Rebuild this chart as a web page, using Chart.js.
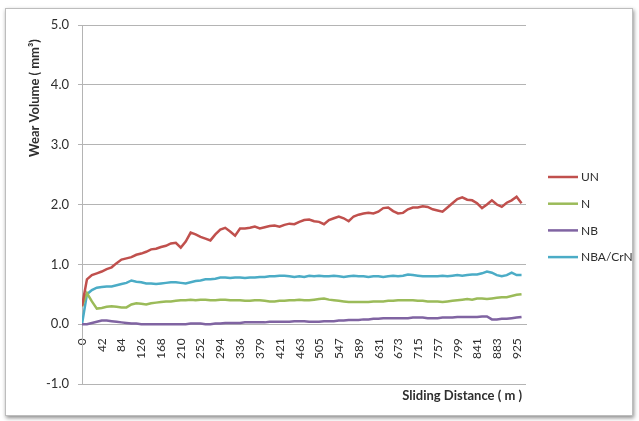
<!DOCTYPE html>
<html>
<head>
<meta charset="utf-8">
<script src="https://cdn.jsdelivr.net/npm/chart.js@4.4.1/dist/chart.umd.min.js"></script>
<style>
  html, body { margin: 0; padding: 0; background: #ffffff; }
  #wrap { position: relative; width: 639px; height: 421px; }
</style>
</head>
<body>
<div id="wrap"><canvas id="chart"></canvas></div>
<script>
// Sliding distance (m) of each sample
const distance = [0, 10.5, 21, 31.5, 42, 52.5, 63, 73.5, 84, 94.5,
  105, 115.5, 126, 136.5, 147, 157.5, 168, 178.5, 189, 199.5,
  210, 220.5, 231, 241.5, 252, 262.5, 273, 283.5, 294, 304.5,
  315, 325.5, 336, 346.5, 357, 367.5, 378, 388.5, 399, 409.5,
  420, 430.5, 441, 451.5, 462, 472.5, 483, 493.5, 504, 514.5,
  525, 535.5, 546, 556.5, 567, 577.5, 588, 598.5, 609, 619.5,
  630, 640.5, 651, 661.5, 672, 682.5, 693, 703.5, 714, 724.5,
  735, 745.5, 756, 766.5, 777, 787.5, 798, 808.5, 819, 829.5,
  840, 850.5, 861, 871.5, 882, 892.5, 903, 913.5, 924, 934.5];

// Wear volume (mm³) per coating
const volUN = [0.30, 0.75, 0.82, 0.85, 0.88, 0.92, 0.95, 1.02, 1.08, 1.10,
  1.12, 1.16, 1.18, 1.21, 1.25, 1.26, 1.29, 1.31, 1.35, 1.36,
  1.28, 1.38, 1.53, 1.50, 1.46, 1.43, 1.40, 1.50, 1.58, 1.61,
  1.55, 1.48, 1.60, 1.60, 1.61, 1.63, 1.60, 1.62, 1.64, 1.65,
  1.63, 1.66, 1.68, 1.67, 1.71, 1.74, 1.75, 1.72, 1.71, 1.67,
  1.74, 1.77, 1.80, 1.77, 1.72, 1.80, 1.83, 1.85, 1.86, 1.85,
  1.88, 1.94, 1.95, 1.89, 1.85, 1.86, 1.92, 1.95, 1.95, 1.97,
  1.96, 1.92, 1.90, 1.88, 1.95, 2.02, 2.09, 2.12, 2.08, 2.07,
  2.02, 1.94, 2.00, 2.07, 2.00, 1.96, 2.03, 2.07, 2.13, 2.02];

const volN = [0.30, 0.52, 0.38, 0.26, 0.27, 0.29, 0.30, 0.29, 0.28, 0.28,
  0.33, 0.35, 0.34, 0.33, 0.35, 0.36, 0.37, 0.38, 0.38, 0.39,
  0.40, 0.40, 0.41, 0.40, 0.41, 0.41, 0.40, 0.40, 0.41, 0.41,
  0.40, 0.40, 0.40, 0.39, 0.39, 0.40, 0.40, 0.39, 0.38, 0.38,
  0.39, 0.39, 0.40, 0.40, 0.41, 0.40, 0.40, 0.41, 0.42, 0.43,
  0.41, 0.40, 0.39, 0.38, 0.37, 0.37, 0.37, 0.37, 0.37, 0.38,
  0.38, 0.38, 0.39, 0.39, 0.40, 0.40, 0.40, 0.40, 0.39, 0.39,
  0.38, 0.38, 0.38, 0.37, 0.38, 0.39, 0.40, 0.41, 0.42, 0.41,
  0.43, 0.43, 0.42, 0.43, 0.44, 0.45, 0.45, 0.47, 0.49, 0.50];

const volNB = [0.00, 0.00, 0.02, 0.04, 0.06, 0.06, 0.05, 0.04, 0.03, 0.02,
  0.01, 0.01, 0.00, 0.00, 0.00, 0.00, 0.00, 0.00, 0.00, 0.00,
  0.00, 0.00, 0.01, 0.01, 0.01, 0.00, 0.00, 0.01, 0.01, 0.02,
  0.02, 0.02, 0.02, 0.03, 0.03, 0.03, 0.03, 0.03, 0.04, 0.04,
  0.04, 0.04, 0.04, 0.05, 0.05, 0.05, 0.04, 0.04, 0.04, 0.05,
  0.05, 0.05, 0.06, 0.06, 0.07, 0.07, 0.07, 0.08, 0.08, 0.09,
  0.09, 0.10, 0.10, 0.10, 0.10, 0.10, 0.10, 0.11, 0.11, 0.11,
  0.10, 0.10, 0.10, 0.11, 0.11, 0.11, 0.12, 0.12, 0.12, 0.12,
  0.12, 0.13, 0.13, 0.08, 0.08, 0.09, 0.09, 0.10, 0.11, 0.12];

const volNBACrN = [0.00, 0.50, 0.57, 0.61, 0.62, 0.63, 0.63, 0.65, 0.67, 0.69,
  0.73, 0.71, 0.70, 0.68, 0.68, 0.67, 0.68, 0.69, 0.70, 0.70,
  0.69, 0.68, 0.70, 0.72, 0.73, 0.75, 0.75, 0.76, 0.78, 0.78,
  0.77, 0.78, 0.78, 0.77, 0.78, 0.78, 0.79, 0.79, 0.80, 0.80,
  0.81, 0.81, 0.80, 0.79, 0.80, 0.79, 0.81, 0.80, 0.81, 0.80,
  0.80, 0.81, 0.80, 0.79, 0.80, 0.81, 0.80, 0.80, 0.79, 0.80,
  0.80, 0.79, 0.80, 0.81, 0.80, 0.81, 0.83, 0.82, 0.81, 0.80,
  0.80, 0.80, 0.80, 0.81, 0.80, 0.81, 0.82, 0.81, 0.82, 0.83,
  0.83, 0.85, 0.88, 0.86, 0.82, 0.80, 0.82, 0.86, 0.82, 0.82];

const seriesNames = ['UN', 'N', 'NB', 'NBA/CrN'];
const seriesColors = ['#C0504D', '#9BBB59', '#8064A2', '#4BACC6'];
const distanceTicks = [0, 42, 84, 126, 168, 210, 252, 294, 336, 379, 421, 463,
  505, 547, 589, 631, 673, 715, 757, 799, 841, 883, 925];
const yTitle = 'Wear Volume ( mm\u00B3)';
const xTitle = 'Sliding Distance ( m )';

const FONT = 'Lato, "Liberation Sans", Arial, sans-serif';
const TEXT = '#2e2e2e';
const GRID = '#b4b4b4';

const toPoints = vals => vals.map((v, i) => ({ x: distance[i], y: v }));
const allSeries = [volUN, volN, volNB, volNBACrN];

// Outer frame, legend and axis titles
const decorations = {
  id: 'decorations',
  beforeDraw(chart) {
    const ctx = chart.ctx;
    ctx.save();
    ctx.fillStyle = '#ffffff';
    ctx.fillRect(0, 0, chart.width, chart.height);
    ctx.shadowColor = 'rgba(0,0,0,0.45)';
    ctx.shadowBlur = 4;
    ctx.shadowOffsetX = 1;
    ctx.shadowOffsetY = 2;
    ctx.fillStyle = '#ffffff';
    ctx.fillRect(5, 8, 628, 408);
    ctx.shadowColor = 'transparent';
    ctx.strokeStyle = '#bdbdbd';
    ctx.lineWidth = 1;
    ctx.strokeRect(5.5, 8.5, 627, 407);
    ctx.restore();
  },
  afterDraw(chart) {
    const ctx = chart.ctx;
    const area = chart.chartArea;
    ctx.save();
    // legend
    ctx.font = '12px ' + FONT;
    ctx.textBaseline = 'middle';
    ctx.textAlign = 'left';
    chart.data.datasets.forEach((ds, i) => {
      const y = 177 + i * 26.7;
      const x0 = area.right + 22;
      ctx.strokeStyle = ds.borderColor;
      ctx.lineWidth = 2.5;
      ctx.beginPath();
      ctx.moveTo(x0, y);
      ctx.lineTo(x0 + 30, y);
      ctx.stroke();
      ctx.fillStyle = TEXT;
      ctx.fillText(ds.label, x0 + 33, y + 0.5);
    });
    // axis titles
    ctx.font = 'bold 13px ' + FONT;
    ctx.fillStyle = TEXT;
    ctx.save();
    ctx.translate(35, 98);
    ctx.rotate(-Math.PI / 2);
    ctx.textAlign = 'center';
    ctx.textBaseline = 'middle';
    ctx.fillText(yTitle, 0, 0);
    ctx.restore();
    ctx.textAlign = 'right';
    ctx.textBaseline = 'middle';
    ctx.fillText(xTitle, area.right - 4, 396);
    ctx.restore();
  }
};

new Chart(document.getElementById('chart'), {
  type: 'line',
  data: {
    datasets: allSeries.map((vals, i) => ({
      label: seriesNames[i],
      data: toPoints(vals),
      borderColor: seriesColors[i],
      backgroundColor: seriesColors[i],
      borderWidth: 2.5,
      pointRadius: 0,
      tension: 0,
      fill: false
    }))
  },
  options: {
    responsive: true,
    maintainAspectRatio: false,
    devicePixelRatio: 1,
    animation: false,
    layout: { padding: { left: 0, top: 25, right: 113, bottom: 37 } },
    plugins: { legend: { display: false }, tooltip: { enabled: false } },
    scales: {
      x: {
        type: 'linear',
        position: { y: 0 },
        min: 0,
        max: 944,
        afterBuildTicks: scale => {
          scale.ticks = distanceTicks.map(v => ({ value: v }));
        },
        grid: { display: false },
        border: { display: true, color: GRID, width: 1 },
        ticks: {
          autoSkip: false,
          minRotation: 90,
          maxRotation: 90,
          padding: 6,
          color: TEXT,
          font: { family: FONT, size: 12 },
          callback: v => String(v)
        }
      },
      y: {
        min: -1,
        max: 5,
        afterFit: scale => { scale.width = 82; },
        grid: { color: GRID, lineWidth: 1, tickLength: 4 },
        border: { display: true, color: GRID, width: 1 },
        ticks: {
          stepSize: 1,
          padding: 9,
          color: TEXT,
          font: { family: FONT, size: 13 },
          callback: v => v.toFixed(1)
        }
      }
    }
  },
  plugins: [decorations]
});
</script>
</body>
</html>
